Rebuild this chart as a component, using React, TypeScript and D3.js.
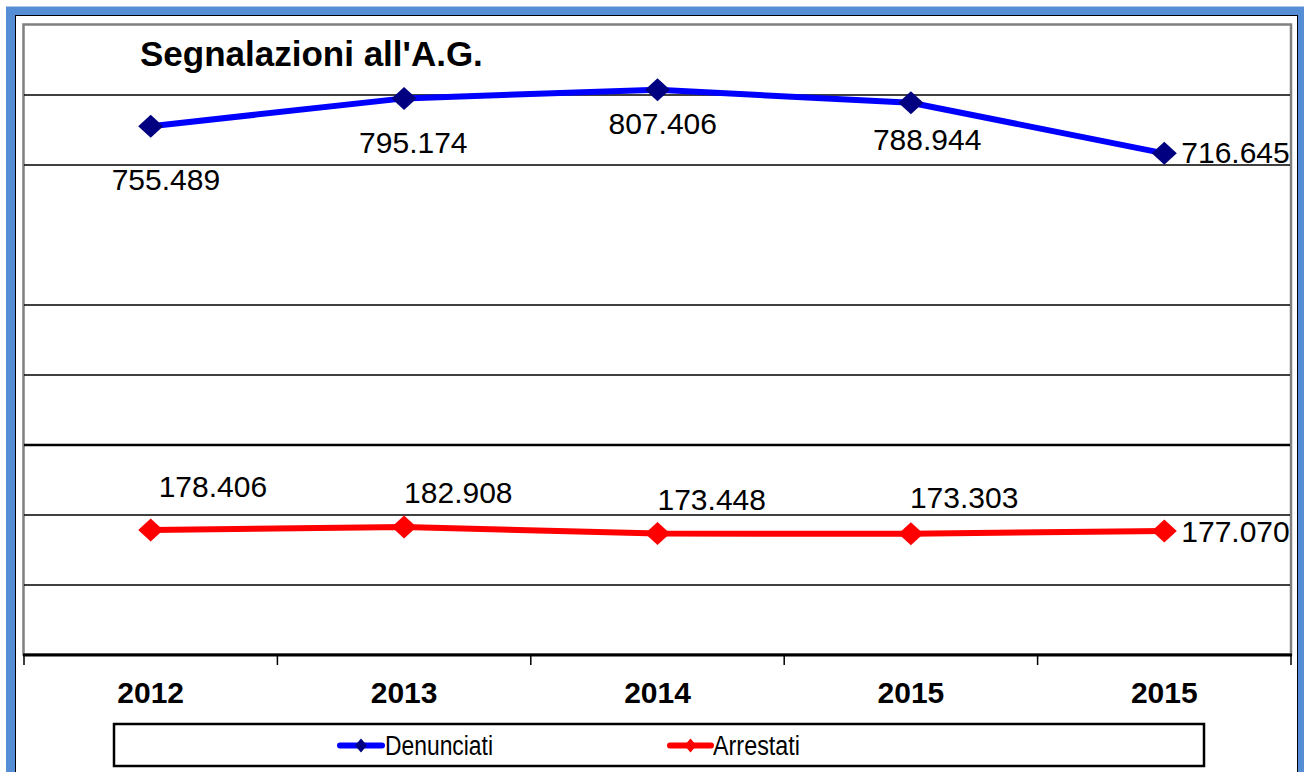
import React from "react";
import * as d3 from "d3";

// categories (the source repeats "2015" for the last point)
const years = ["2012", "2013", "2014", "2015", "2015"];
const denunciati = [755.489, 795.174, 807.406, 788.944, 716.645];
const arrestati = [178.406, 182.908, 173.448, 173.303, 177.07];
const gridValues = [100, 200, 300, 400, 500, 700, 800];

// manual label placement, as in the original spreadsheet chart
const denLabelOffsets = [[-39, 64], [-45, 55], [-49, 44], [-38, 47], [17, 10]];
const arrLabelOffsets = [[8, -33], [0, -24], [0, -24], [-1, -26], [17, 11]];

const W = 1304;
const H = 772;
const plot = { left: 24, right: 1291, top: 25, bottom: 655 };
const FONT = "'Liberation Sans', Arial, Helvetica, sans-serif";

const fmt = (v: number) => v.toFixed(3);

const diamond = (cx: number, cy: number, rx: number, ry: number) =>
  `M${cx},${cy - ry}L${cx + rx},${cy}L${cx},${cy + ry}L${cx - rx},${cy}Z`;

export default function App() {
  const x = d3
    .scaleBand<number>()
    .domain(d3.range(years.length))
    .range([plot.left, plot.right]);

  const y = d3.scaleLinear().domain([0, 900]).range([plot.bottom, plot.top]);

  const cx = (i: number) => (x(i) as number) + x.bandwidth() / 2;

  const line = d3
    .line<number>()
    .x((_, i) => cx(i))
    .y((d) => y(d));

  const series = [
    { name: "Denunciati", values: denunciati, line: "#0000ff", marker: "#000080", offsets: denLabelOffsets },
    { name: "Arrestati", values: arrestati, line: "#ff0000", marker: "#ff0000", offsets: arrLabelOffsets },
  ];

  const boundaries = [...years.map((_, i) => x(i) as number), plot.right];

  const legendItems = [
    { name: "Denunciati", line: "#0000ff", marker: "#000080", x0: 340, x1: 382, tx: 385, tl: 108 },
    { name: "Arrestati", line: "#ff0000", marker: "#ff0000", x0: 670, x1: 711, tx: 713, tl: 87 },
  ];

  return (
    <svg
      width={W}
      height={H}
      style={{ position: "absolute", left: 0, top: 0, background: "#fff" }}
      fontFamily={FONT}
    >
      {/* outer frame */}
      <rect x={10.5} y={11} width={1292} height={820} fill="none" stroke="#558ed5" strokeWidth={9} />
      <rect x={15.5} y={15.5} width={1282} height={820} fill="none" stroke="#000" strokeWidth={1} />

      {/* plot area */}
      <rect
        x={plot.left - 0.5}
        y={plot.top - 0.5}
        width={plot.right - plot.left + 0.5}
        height={plot.bottom - plot.top}
        fill="#fff"
        stroke="#808080"
        strokeWidth={2.5}
      />

      {/* gridlines */}
      {gridValues.map((v) => (
        <line
          key={v}
          x1={plot.left}
          x2={plot.right - 1}
          y1={y(v)}
          y2={y(v)}
          stroke="#000"
          strokeWidth={v === 300 ? 2.5 : 1.5}
        />
      ))}

      {/* x axis */}
      <line x1={plot.left - 1} x2={plot.right + 1} y1={plot.bottom} y2={plot.bottom} stroke="#000" strokeWidth={3} />
      {boundaries.map((bx, i) => (
        <line key={i} x1={bx} x2={bx} y1={plot.bottom} y2={plot.bottom + 10} stroke="#000" strokeWidth={1.5} />
      ))}
      {years.map((yr, i) => (
        <text key={i} x={cx(i)} y={703} textAnchor="middle" fontSize={30} fontWeight="bold" fill="#000">
          {yr}
        </text>
      ))}

      {/* series */}
      {series.map((s) => (
        <g key={s.name}>
          <path d={line(s.values) ?? ""} fill="none" stroke={s.line} strokeWidth={6} strokeLinejoin="round" />
          {s.values.map((v, i) => (
            <path key={i} d={diamond(cx(i), y(v), 12.5, 11.5)} fill={s.marker} />
          ))}
          {s.values.map((v, i) => (
            <text
              key={"l" + i}
              x={cx(i) + s.offsets[i][0]}
              y={y(v) + s.offsets[i][1]}
              fontSize={30}
              fill="#000"
            >
              {fmt(v)}
            </text>
          ))}
        </g>
      ))}

      {/* title */}
      <text x={140} y={66} fontSize={35} fontWeight="bold" fill="#000">
        Segnalazioni all'A.G.
      </text>

      {/* legend */}
      <rect x={114} y={724} width={1090} height={42} fill="#fff" stroke="#000" strokeWidth={2.5} />
      {legendItems.map((l) => (
        <g key={l.name}>
          <line x1={l.x0} x2={l.x1} y1={745.5} y2={745.5} stroke={l.line} strokeWidth={6} strokeLinecap="round" />
          <path d={diamond((l.x0 + l.x1) / 2, 745.5, 6, 7)} fill={l.marker} />
          <text x={l.tx} y={755} fontSize={27} textLength={l.tl} lengthAdjust="spacingAndGlyphs" fill="#000">
            {l.name}
          </text>
        </g>
      ))}
    </svg>
  );
}
